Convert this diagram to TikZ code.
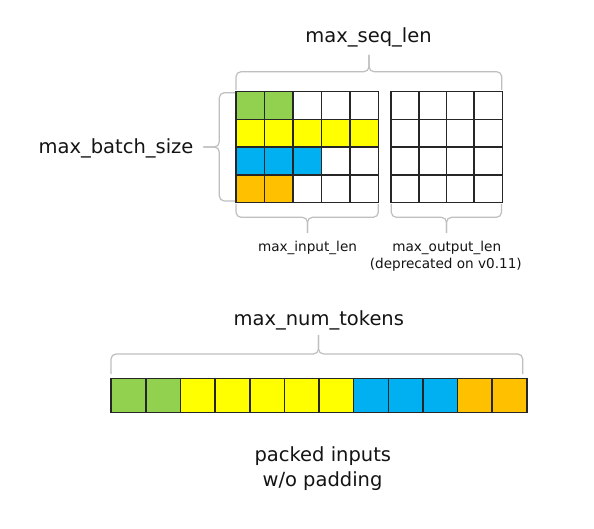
\documentclass[tikz,border=0pt]{standalone}
\usepackage{fontspec}
\setmainfont{DejaVu Sans}
\definecolor{cgreen}{HTML}{92D050}
\definecolor{cyellow}{HTML}{FFFF00}
\definecolor{cblue}{HTML}{00B0F0}
\definecolor{corange}{HTML}{FFC000}
\definecolor{bracegray}{HTML}{BFBFBF}
\definecolor{txt}{HTML}{141414}
\definecolor{gridline}{HTML}{262626}
\begin{document}
\begin{tikzpicture}[x=1pt,y=-1pt,
  bigtxt/.style={font=\fontsize{19.5}{23}\selectfont, text=txt, inner sep=0pt, anchor=base},
  smalltxt/.style={font=\fontsize{13.6}{16}\selectfont, text=txt, inner sep=0pt, anchor=base},
  bracepath/.style={draw=bracegray, line width=1.2pt, rounded corners=5pt},
  cellL/.style={inner sep=0pt, minimum width=28.46pt, minimum height=27.65pt, anchor=north west},
  cellR/.style={inner sep=0pt, minimum width=27.68pt, minimum height=27.65pt, anchor=north west},
  cellS/.style={inner sep=0pt, minimum width=34.64pt, minimum height=33.4pt, anchor=north west},
  border/.style={draw=gridline, line width=1.2pt, line join=miter}]
\useasboundingbox (0,0) rectangle (594,529);
\fill[white] (0,0) rectangle (594,529);

% left grid (inputs with padding)
\foreach \r/\k/\c in {0/2/cgreen,1/5/cyellow,2/3/cblue,3/2/corange}{
  \foreach \col in {0,...,4}{
    \ifnum\col<\k\relax\def\fc{\c}\else\def\fc{white}\fi
    \node[cellL, fill=\fc] (L-\r-\col) at ({236+28.46*\col},{91.7+27.65*\r}) {};
  }
}
% right grid (outputs)
\foreach \r in {0,...,3}{
  \foreach \col in {0,...,3}{
    \node[cellR, fill=white] (R-\r-\col) at ({391+27.68*\col},{91.7+27.65*\r}) {};
  }
}
% packed strip
\foreach \c [count=\i from 0] in {cgreen,cgreen,cyellow,cyellow,cyellow,cyellow,cyellow,cblue,cblue,cblue,corange,corange}{
  \node[cellS, fill=\c] (S-\i) at ({111+34.64*\i},378.3) {};
}
% cell borders
\foreach \r in {0,...,3}{
  \foreach \col in {0,...,4}{ \draw[border] (L-\r-\col.north west) rectangle (L-\r-\col.south east); }
  \foreach \col in {0,...,3}{ \draw[border] (R-\r-\col.north west) rectangle (R-\r-\col.south east); }
}
\foreach \i in {0,...,11}{ \draw[border] (S-\i.north west) rectangle (S-\i.south east); }

% braces
\draw[bracepath] (236,90) -- (236,71.7) -- (369,71.7) -- (369,55);
\draw[bracepath] (501.7,90) -- (501.7,71.7) -- (369,71.7) -- (369,55);

\draw[bracepath] (235,92.7) -- (219.3,92.7) -- (219.3,147) -- (203.3,147);
\draw[bracepath] (235,201) -- (219.3,201) -- (219.3,147) -- (203.3,147);

\draw[bracepath] (236,203.8) -- (236,217.3) -- (307.5,217.3) -- (307.5,233);
\draw[bracepath] (378.3,203.8) -- (378.3,217.3) -- (307.5,217.3) -- (307.5,233);

\draw[bracepath] (391.3,203.8) -- (391.3,217.3) -- (446.5,217.3) -- (446.5,233);
\draw[bracepath] (501.5,203.8) -- (501.5,217.3) -- (446.5,217.3) -- (446.5,233);

\draw[bracepath] (111,374) -- (111,354) -- (318.5,354) -- (318.5,335);
\draw[bracepath] (522.7,374) -- (522.7,354) -- (318.5,354) -- (318.5,335);

% labels
\node[bigtxt] (seq) at (368.5,42.7) {max\_seq\_len};
\node[bigtxt] (batch) at (116,154) {max\_batch\_size};
\node[smalltxt] (inlen) at (307.5,251.7) {max\_input\_len};
\node[smalltxt] (outlen) at (446.7,251.7) {max\_output\_len};
\node[smalltxt] (depr) at (445.8,268.3) {(deprecated on v0.11)};
\node[bigtxt] (numtok) at (318.8,325) {max\_num\_tokens};
\node[bigtxt] (packed) at (322.8,461.7) {packed inputs};
\node[bigtxt] (wo) at (322.5,486) {w/o padding};
\end{tikzpicture}
\end{document}
